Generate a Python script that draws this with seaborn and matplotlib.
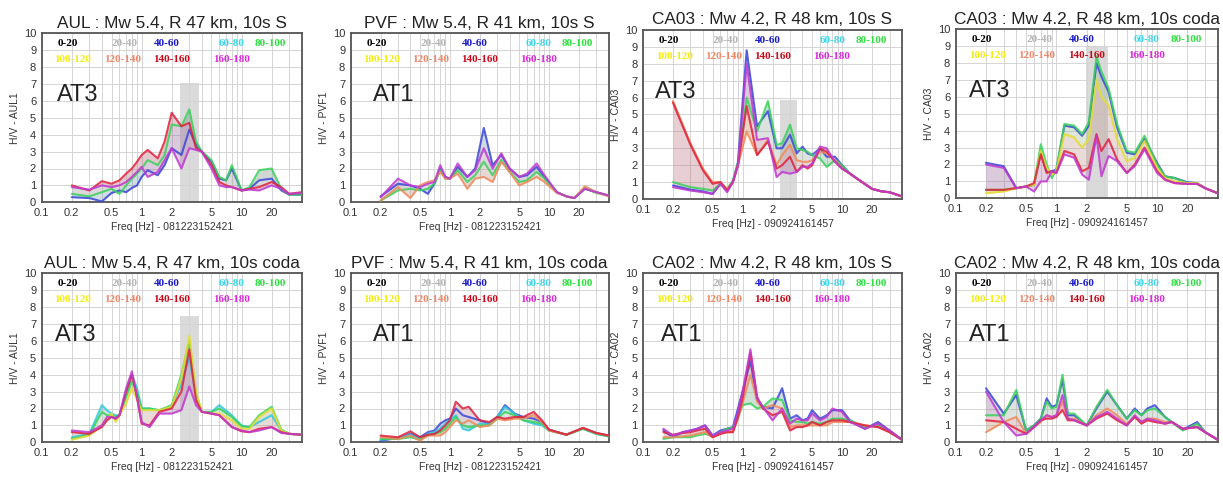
import numpy as np
import pandas as pd
import matplotlib
matplotlib.use("Agg")
import matplotlib.pyplot as plt
import matplotlib.colors as mcolors
from matplotlib.ticker import FixedLocator, NullFormatter, LogLocator
import seaborn as sns

# ---------------- data ----------------
AZ_BINS = ["0-20", "20-40", "40-60", "60-80", "80-100",
           "100-120", "120-140", "140-160", "160-180"]
AZ_TEXT_COLORS = ["#000000", "#b4b4b4", "#1a1ac8", "#3ad8ea", "#2ee040",
                  "#f2ee10", "#f08868", "#c80818", "#dc28dc"]
AZ_LINE_COLORS = ["#222222", "#aaaaaa", "#3a46d8", "#30c8dc", "#38d25a",
                  "#e6dc30", "#f08a5a", "#e0203c", "#c038d0"]
WRAP_FILL = "#9098c0"   # thin lines of the 0-40 azimuths

X_TICKS = [0.1, 0.2, 0.5, 1, 2, 5, 10, 20]
X_TICK_LABELS = ["0.1", "0.2", "0.5", "1", "2", "5", "10", "20"]
Y_TICKS = list(range(0, 11))

TITLES = ["AUL : Mw 5.4, R 47 km, 10s S", "PVF : Mw 5.4, R 41 km, 10s S",
          "CA03 : Mw 4.2, R 48 km, 10s S", "CA03 : Mw 4.2, R 48 km, 10s coda",
          "AUL : Mw 5.4, R 47 km, 10s coda", "PVF : Mw 5.4, R 41 km, 10s coda",
          "CA02 : Mw 4.2, R 48 km, 10s S", "CA02 : Mw 4.2, R 48 km, 10s coda"]
Y_LABELS = ["H/V - AUL1", "H/V - PVF1", "H/V - CA03", "H/V - CA03",
            "H/V - AUL1", "H/V - PVF1", "H/V - CA02", "H/V - CA02"]
X_LABELS = ["Freq [Hz] - 081223152421", "Freq [Hz] - 081223152421",
            "Freq [Hz] - 090924161457", "Freq [Hz] - 090924161457",
            "Freq [Hz] - 081223152421", "Freq [Hz] - 081223152421",
            "Freq [Hz] - 090924161457", "Freq [Hz] - 090924161457"]
SITE_LABELS = ["AT3", "AT1", "AT3", "AT3", "AT3", "AT1", "AT1", "AT1"]

# shaded frequency band: (f_low, f_high, top value) or None
BANDS = [(2.42, 3.75, 7.05), None, (2.36, 3.53, 5.85), (1.95, 3.28, 9.0),
         (2.42, 3.77, 7.5), None, None, None]

# panel 1: AUL, 10s S
AUL_S_FREQ = [0.2, 0.3, 0.4, 0.5, 0.6, 0.7, 0.8, 0.9, 1.0, 1.15, 1.45, 1.7, 2.0, 2.5,
              3.0, 3.5, 4.0, 5.0, 6.0, 7.0, 8.0, 10, 12, 15, 20, 25, 30, 40]
AUL_S_HV = {
    "40-60":   [0.3, 0.25, 0.05, 0.55, 0.7, 0.6, 0.85, 1.0, 1.5, 1.9, 1.6, 2.2, 3.2, 2.8,
                4.3, 3.4, 3.0, 2.4, 1.4, 1.3, 2.0, 0.7, 0.8, 1.3, 1.4, 0.7, 0.45, 0.45],
    "80-100":  [0.5, 0.35, 0.6, 0.8, 0.5, 1.0, 1.4, 1.7, 2.0, 2.5, 2.2, 2.8, 4.6, 4.5,
                5.5, 3.6, 3.0, 2.5, 1.5, 1.3, 2.2, 0.7, 0.9, 1.9, 2.0, 0.8, 0.45, 0.45],
    "140-160": [1.0, 0.7, 1.25, 1.1, 1.3, 1.7, 2.0, 2.4, 2.8, 3.1, 2.6, 3.6, 5.3, 4.5,
                4.7, 3.2, 3.0, 2.2, 1.2, 1.0, 0.9, 0.7, 0.8, 0.9, 1.2, 0.9, 0.5, 0.6],
    "160-180": [0.9, 0.75, 1.0, 0.9, 1.0, 1.2, 1.5, 1.8, 2.1, 1.5, 1.8, 2.5, 3.2, 2.0,
                3.2, 3.1, 3.0, 2.0, 1.0, 0.9, 0.9, 0.7, 0.75, 0.7, 1.0, 0.8, 0.5, 0.55],
}

# panel 2: PVF, 10s S
PVF_S_FREQ = [0.2, 0.3, 0.4, 0.5, 0.6, 0.7, 0.8, 0.9, 1.0, 1.2, 1.5, 1.8, 2.2, 2.7,
              3.3, 4.0, 5.0, 6.0, 7.5, 9.0, 12, 15, 18, 23, 30, 40]
PVF_S_HV = {
    "40-60":   [0.35, 1.1, 1.0, 0.8, 0.5, 1.1, 2.0, 1.5, 1.4, 2.1, 1.5, 2.0, 4.4, 2.2,
                2.8, 2.0, 1.5, 1.6, 2.1, 1.5, 0.6, 0.35, 0.25, 0.8, 0.6, 0.4],
    "80-100":  [0.1, 0.7, 0.8, 0.7, 0.8, 1.1, 1.9, 1.4, 1.4, 1.9, 1.2, 1.6, 2.4, 1.6,
                2.5, 1.8, 1.2, 1.3, 1.8, 1.4, 0.6, 0.35, 0.25, 0.85, 0.55, 0.4],
    "120-140": [0.1, 0.9, 0.25, 1.0, 1.2, 1.3, 1.8, 1.4, 1.4, 1.7, 0.8, 1.4, 1.5, 1.2,
                2.4, 1.8, 1.0, 1.2, 1.5, 1.2, 0.55, 0.35, 0.25, 0.95, 0.6, 0.35],
    "160-180": [0.3, 1.4, 1.0, 0.9, 1.1, 1.2, 2.2, 1.5, 1.4, 2.3, 1.5, 1.9, 3.2, 2.0,
                2.9, 2.0, 1.5, 1.7, 2.3, 1.6, 0.6, 0.35, 0.25, 0.8, 0.6, 0.4],
}

# panel 3: CA03, 10s S
CA03_S_FREQ = [0.2, 0.3, 0.4, 0.5, 0.6, 0.7, 0.8, 0.9, 1.1, 1.4, 1.8, 2.2, 2.5, 3.0,
               3.5, 4.0, 4.5, 5.0, 6.0, 7.0, 8.5, 10, 12, 15, 20, 25, 30, 40]
CA03_S_HV = {
    "40-60":   [0.8, 0.55, 0.45, 0.3, 0.9, 0.5, 1.0, 2.2, 8.8, 4.3, 5.2, 3.0, 3.0, 3.8,
                2.7, 3.1, 2.7, 2.6, 3.0, 2.5, 2.5, 2.0, 1.5, 1.1, 0.6, 0.45, 0.4, 0.15],
    "80-100":  [1.0, 0.7, 0.6, 0.5, 0.9, 0.6, 1.1, 2.1, 6.0, 4.0, 5.8, 3.2, 3.3, 4.4,
                3.0, 2.9, 2.8, 2.6, 2.4, 1.9, 2.3, 2.0, 1.5, 1.1, 0.6, 0.45, 0.4, 0.15],
    "120-140": [5.8, 3.3, 1.8, 1.0, 1.0, 0.6, 1.0, 2.0, 4.0, 2.6, 3.5, 2.0, 2.6, 3.2,
                2.3, 2.2, 2.2, 2.3, 2.8, 2.7, 2.3, 1.8, 1.5, 1.1, 0.6, 0.45, 0.4, 0.15],
    "140-160": [5.7, 3.2, 1.7, 0.9, 1.0, 0.5, 1.0, 2.0, 5.5, 2.6, 3.4, 1.8, 2.0, 2.5,
                1.6, 2.0, 1.8, 2.0, 3.0, 2.8, 2.2, 1.8, 1.5, 1.1, 0.6, 0.45, 0.4, 0.15],
    "160-180": [0.7, 0.5, 0.4, 0.3, 0.9, 0.4, 1.0, 2.0, 8.0, 3.5, 3.6, 1.3, 1.6, 1.5,
                1.6, 1.9, 1.9, 2.1, 3.1, 3.0, 2.2, 1.8, 1.5, 1.1, 0.6, 0.45, 0.4, 0.15],
}

# panel 4: CA03, 10s coda
CA03_C_FREQ = [0.2, 0.3, 0.4, 0.5, 0.6, 0.7, 0.8, 0.9, 1.0, 1.2, 1.5, 1.8, 2.1, 2.5,
               2.8, 3.3, 4.0, 5.0, 6.0, 7.5, 10, 12, 15, 20, 25, 30, 40]
CA03_C_HV = {
    "40-60":   [2.1, 1.9, 0.6, 0.7, 0.8, 2.7, 1.6, 1.6, 1.7, 4.3, 4.2, 3.7, 4.3, 8.0,
                7.2, 6.3, 4.2, 2.7, 2.6, 3.5, 2.1, 1.3, 1.2, 0.95, 0.9, 0.6, 0.3],
    "80-100":  [0.5, 0.5, 0.6, 0.7, 0.8, 3.2, 2.0, 1.2, 1.7, 4.4, 4.3, 3.8, 4.5, 8.4,
                7.5, 6.5, 4.4, 2.8, 2.7, 3.7, 2.0, 1.3, 1.2, 0.9, 0.9, 0.6, 0.3],
    "100-120": [0.3, 0.4, 0.6, 0.7, 0.8, 2.8, 1.8, 1.4, 1.6, 3.8, 3.6, 3.0, 3.5, 7.0,
                6.0, 5.5, 3.5, 2.2, 2.4, 3.4, 1.8, 1.2, 1.0, 0.9, 0.9, 0.6, 0.3],
    "140-160": [0.5, 0.5, 0.6, 0.7, 0.9, 2.6, 1.5, 1.6, 1.5, 2.8, 2.6, 1.6, 1.8, 3.8,
                2.8, 3.5, 2.3, 1.5, 2.0, 3.0, 1.6, 1.1, 0.9, 0.85, 0.85, 0.6, 0.3],
    "160-180": [2.0, 1.8, 0.6, 0.7, 0.4, 1.0, 1.0, 1.6, 1.5, 2.6, 2.4, 1.4, 1.1, 3.7,
                1.3, 2.5, 2.2, 1.5, 1.9, 2.9, 1.5, 1.1, 0.9, 0.85, 0.85, 0.6, 0.3],
}

# panel 5: AUL, 10s coda
AUL_C_FREQ = [0.2, 0.3, 0.4, 0.45, 0.5, 0.55, 0.6, 0.7, 0.8, 0.9, 1.0, 1.2, 1.5, 2.0,
              2.5, 3.0, 3.5, 4.0, 5.0, 6.0, 8.0, 10, 12, 15, 20, 25, 30, 40]
AUL_C_HV = {
    "60-80":   [0.3, 0.5, 2.2, 1.9, 1.7, 1.6, 1.6, 2.8, 4.0, 3.2, 2.0, 2.0, 1.9, 2.1,
                3.5, 5.0, 2.8, 1.8, 1.8, 2.2, 1.6, 1.0, 0.9, 1.2, 1.6, 0.7, 0.5, 0.45],
    "80-100":  [0.2, 0.45, 1.8, 1.6, 1.6, 1.5, 1.6, 2.7, 3.6, 3.0, 2.0, 2.0, 1.9, 2.2,
                4.0, 6.0, 2.9, 1.8, 1.8, 2.0, 1.5, 0.95, 0.9, 1.6, 2.1, 0.75, 0.5, 0.45],
    "100-120": [0.15, 0.4, 1.0, 1.3, 1.7, 1.2, 1.6, 2.3, 3.2, 2.5, 1.9, 1.9, 1.9, 2.1,
                3.8, 6.3, 3.0, 1.8, 1.7, 1.7, 1.3, 0.8, 0.8, 1.5, 2.0, 0.7, 0.5, 0.45],
    "140-160": [0.6, 0.5, 0.9, 1.3, 1.5, 1.4, 1.6, 3.0, 4.0, 2.7, 1.1, 1.0, 1.8, 2.0,
                3.0, 5.5, 2.5, 1.8, 1.7, 1.6, 0.9, 0.65, 0.6, 0.8, 0.9, 0.6, 0.5, 0.45],
    "160-180": [0.7, 0.6, 1.0, 1.5, 1.5, 1.4, 1.6, 3.2, 4.2, 2.6, 1.2, 0.9, 1.7, 1.7,
                1.9, 3.3, 2.2, 1.8, 1.7, 1.6, 0.9, 0.7, 0.6, 0.7, 0.9, 0.55, 0.5, 0.45],
}

# panel 6: PVF, 10s coda
PVF_C_FREQ = [0.2, 0.3, 0.4, 0.5, 0.6, 0.7, 0.8, 0.9, 1.0, 1.15, 1.35, 1.55, 2.0, 2.5,
              3.0, 3.6, 4.5, 5.5, 7.0, 8.5, 10, 15, 22, 30, 40]
PVF_C_HV = {
    "40-60":   [0.1, 0.25, 0.5, 0.3, 0.6, 0.7, 1.1, 1.3, 1.4, 2.0, 1.6, 1.5, 1.3, 1.1,
                1.5, 2.2, 1.7, 1.5, 1.4, 1.2, 0.75, 0.45, 0.85, 0.55, 0.4],
    "60-80":   [0.15, 0.25, 0.45, 0.2, 0.5, 0.6, 0.8, 1.1, 1.3, 1.6, 0.8, 0.7, 1.1, 1.1,
                1.5, 2.1, 1.7, 1.3, 1.1, 1.0, 0.7, 0.45, 0.8, 0.5, 0.35],
    "80-100":  [0.2, 0.2, 0.3, 0.15, 0.4, 0.5, 0.6, 0.8, 1.1, 1.5, 1.0, 0.9, 1.0, 1.0,
                1.4, 1.8, 1.6, 1.3, 1.2, 1.1, 0.7, 0.45, 0.8, 0.5, 0.35],
    "120-140": [0.3, 0.2, 0.4, 0.1, 0.4, 0.4, 0.4, 0.6, 0.9, 1.3, 1.1, 1.3, 0.9, 1.0,
                1.4, 1.3, 1.4, 1.4, 1.6, 1.2, 0.7, 0.45, 0.85, 0.55, 0.4],
    "140-160": [0.4, 0.3, 0.65, 0.3, 0.45, 0.5, 0.7, 1.0, 1.3, 2.4, 2.0, 2.1, 1.3, 1.2,
                1.5, 1.4, 1.5, 1.5, 1.8, 1.3, 0.75, 0.45, 0.85, 0.55, 0.4],
}

# panel 7: CA02, 10s S
CA02_S_FREQ = [0.16, 0.2, 0.25, 0.3, 0.35, 0.42, 0.5, 0.6, 0.7, 0.8, 0.9, 1.0, 1.2, 1.4,
               1.6, 2.0, 2.5, 3.0, 3.5, 4.0, 4.5, 5.0, 6.0, 7.0, 8.0, 10, 12, 17, 23, 30, 40]
CA02_S_HV = {
    "40-60":   [0.7, 0.3, 0.6, 0.7, 0.8, 1.0, 0.4, 0.7, 0.8, 0.9, 2.0, 3.0, 4.8, 2.5,
                2.1, 2.0, 3.2, 1.4, 1.6, 1.3, 1.4, 1.9, 1.4, 1.6, 1.9, 1.9, 1.3, 0.8,
                1.2, 0.7, 0.15],
    "80-100":  [0.2, 0.3, 0.3, 0.3, 0.4, 0.5, 0.35, 0.6, 0.8, 0.9, 1.5, 2.2, 2.3, 2.0,
                2.1, 2.6, 2.5, 1.3, 1.2, 1.2, 1.1, 1.2, 1.1, 1.2, 1.4, 1.4, 1.3, 0.9,
                1.0, 0.6, 0.15],
    "120-140": [0.3, 0.3, 0.35, 0.4, 0.5, 0.6, 0.3, 0.5, 0.6, 0.6, 1.4, 2.3, 4.0, 2.4,
                2.0, 2.2, 2.0, 0.9, 1.0, 1.0, 1.0, 1.0, 1.0, 1.0, 1.2, 1.2, 1.2, 1.0,
                0.9, 0.6, 0.15],
    "140-160": [0.6, 0.45, 0.55, 0.6, 0.7, 0.8, 0.3, 0.5, 0.6, 0.6, 1.5, 2.6, 5.3, 2.7,
                2.0, 1.6, 1.8, 0.7, 0.9, 0.9, 1.0, 1.2, 1.0, 1.2, 1.3, 1.3, 1.2, 1.0,
                0.9, 0.6, 0.15],
    "160-180": [0.8, 0.4, 0.6, 0.7, 0.8, 1.0, 0.4, 0.6, 0.7, 0.8, 1.8, 3.0, 5.5, 2.6,
                2.1, 1.3, 2.0, 1.1, 1.4, 1.3, 1.3, 1.7, 1.3, 1.5, 2.0, 1.8, 1.2, 0.8,
                1.1, 0.7, 0.15],
}

# panel 8: CA02, 10s coda
CA02_C_FREQ = [0.2, 0.3, 0.4, 0.5, 0.6, 0.7, 0.8, 0.9, 1.0, 1.15, 1.3, 1.5, 2.0, 2.5,
               3.2, 4.0, 5.0, 6.0, 7.0, 8.0, 9.5, 12, 14, 18, 25, 30, 40]
CA02_C_HV = {
    "40-60":   [3.2, 1.7, 2.8, 0.7, 1.0, 1.4, 2.6, 2.1, 2.2, 3.7, 1.6, 1.6, 1.0, 2.0,
                3.0, 2.2, 1.4, 2.0, 1.6, 2.0, 2.2, 1.5, 1.2, 0.75, 1.2, 0.6, 0.15],
    "80-100":  [1.6, 1.6, 3.1, 0.7, 1.0, 1.4, 2.4, 2.0, 2.1, 4.0, 1.7, 1.7, 1.0, 2.1,
                3.1, 2.2, 1.4, 1.9, 1.6, 1.9, 2.0, 1.5, 1.2, 0.7, 1.1, 0.6, 0.15],
    "120-140": [0.6, 1.2, 1.5, 0.5, 0.9, 1.2, 1.6, 1.5, 1.6, 2.4, 1.4, 1.4, 1.0, 1.6,
                2.0, 1.6, 1.1, 1.5, 1.2, 1.4, 1.4, 1.2, 1.2, 0.8, 0.9, 0.6, 0.15],
    "140-160": [1.3, 1.2, 0.8, 0.5, 0.9, 1.3, 1.4, 1.4, 1.5, 1.9, 1.3, 1.3, 1.0, 1.4,
                1.7, 1.3, 1.0, 1.5, 1.1, 1.3, 1.2, 1.1, 1.2, 0.8, 0.9, 0.6, 0.15],
    "160-180": [3.0, 1.2, 0.4, 0.5, 0.9, 1.3, 1.6, 1.5, 1.6, 2.8, 1.4, 1.3, 1.0, 1.5,
                1.8, 1.4, 1.0, 1.6, 1.2, 1.4, 1.3, 1.1, 1.2, 0.8, 0.9, 0.6, 0.15],
}

PANEL_FREQS = [AUL_S_FREQ, PVF_S_FREQ, CA03_S_FREQ, CA03_C_FREQ,
               AUL_C_FREQ, PVF_C_FREQ, CA02_S_FREQ, CA02_C_FREQ]
PANEL_HVS = [AUL_S_HV, PVF_S_HV, CA03_S_HV, CA03_C_HV,
             AUL_C_HV, PVF_C_HV, CA02_S_HV, CA02_C_HV]

# ---------------- style / layout ----------------
sns.set_style("white")
plt.rcParams["font.family"] = ["Liberation Sans", "DejaVu Sans"]

FIG_W, FIG_H = 1223, 479
fig = plt.figure(figsize=(FIG_W / 100, FIG_H / 100), dpi=100)

COL_LEFT = [41.7, 350.7, 643.0, 955.7]
COL_WIDTH = [260, 258, 259, 262]
ROW_BOTTOM = [[202.3, 202.3, 199.0, 198.3], [442.3, 442.3, 442.3, 442.3]]
AX_H = 169
SITE_X = [0.058, 0.086, 0.046, 0.05, 0.05, 0.086, 0.07, 0.05]

LEG_ROW1_X = [0.10, 0.32, 0.48, 0.73, 0.88]
LEG_ROW2_X = [0.12, 0.31, 0.50, 0.73]

line_pal = dict(zip(AZ_BINS, AZ_LINE_COLORS))


def blend(c1, c2):
    a = np.array(mcolors.to_rgb(c1))
    b = np.array(mcolors.to_rgb(c2))
    return tuple((a + b) / 2)


for i in range(8):
    r, c = divmod(i, 4)
    left = COL_LEFT[c] / FIG_W
    bottom = (FIG_H - ROW_BOTTOM[r][c]) / FIG_H
    ax = fig.add_axes([left, bottom, COL_WIDTH[c] / FIG_W, AX_H / FIG_H])

    freq = PANEL_FREQS[i]
    hv = PANEL_HVS[i]
    keys = [k for k in AZ_BINS if k in hv]

    # shaded band
    if BANDS[i] is not None:
        f0, f1, top = BANDS[i]
        ax.axvspan(f0, f1, ymin=0, ymax=top / 10.0, color="#d4d4d4",
                   alpha=0.85, lw=0, zorder=1)

    # pastel fan between neighbouring azimuth curves
    n = len(keys)
    for j in range(n):
        a, b = keys[j], keys[(j + 1) % n]
        col = WRAP_FILL if j == n - 1 else blend(line_pal[a], line_pal[b])
        ax.fill_between(freq, hv[a], hv[b], color=col, alpha=0.17, lw=0, zorder=2)

    rows = []
    for k in keys:
        for f, v in zip(freq, hv[k]):
            rows.append({"freq": f, "hv": v, "az": k})
    df = pd.DataFrame(rows)
    sns.lineplot(data=df, x="freq", y="hv", hue="az", hue_order=keys,
                 palette={k: line_pal[k] for k in keys}, estimator=None,
                 lw=1.5, alpha=0.85, legend=False, ax=ax, zorder=3)

    ax.set_xscale("log")
    ax.set_xlim(0.1, 40)
    ax.set_ylim(0, 10)
    ax.xaxis.set_major_locator(FixedLocator(X_TICKS))
    ax.set_xticklabels(X_TICK_LABELS)
    ax.xaxis.set_minor_locator(LogLocator(base=10, subs=np.arange(2, 10)))
    ax.xaxis.set_minor_formatter(NullFormatter())
    ax.set_yticks(Y_TICKS)
    ax.grid(True, which="both", axis="x", color="#cfcfcf", lw=0.6, zorder=0)
    ax.grid(True, which="major", axis="y", color="#cfcfcf", lw=0.6, zorder=0)
    ax.set_axisbelow(True)
    ax.tick_params(axis="both", which="major", labelsize=8, length=2,
                   pad=2, colors="#333333")
    ax.tick_params(axis="x", which="minor", length=0)
    for sp in ax.spines.values():
        sp.set_color("#555555")
        sp.set_linewidth(1.3)

    ax.set_title(TITLES[i], fontsize=12.4, pad=4, color="#222222")
    ax.set_xlabel(X_LABELS[i], fontsize=7.5, labelpad=3, color="#333333")
    ax.set_ylabel(Y_LABELS[i], fontsize=7.5, labelpad=3, color="#333333")

    ax.text(SITE_X[i], 0.635, SITE_LABELS[i], transform=ax.transAxes,
            fontsize=17, va="center", ha="left", color="#222222", zorder=5)

    # azimuth legend as coloured text
    for x, lab, col in zip(LEG_ROW1_X, AZ_BINS[:5], AZ_TEXT_COLORS[:5]):
        ax.text(x, 0.94, lab, transform=ax.transAxes, ha="center", va="center",
                fontsize=8, fontweight="bold", color=col,
                family=["Liberation Serif", "DejaVu Serif"], zorder=6)
    for x, lab, col in zip(LEG_ROW2_X, AZ_BINS[5:], AZ_TEXT_COLORS[5:]):
        ax.text(x, 0.846, lab, transform=ax.transAxes, ha="center", va="center",
                fontsize=8, fontweight="bold", color=col,
                family=["Liberation Serif", "DejaVu Serif"], zorder=6)

fig.savefig("out.png", dpi=100, facecolor="white")
